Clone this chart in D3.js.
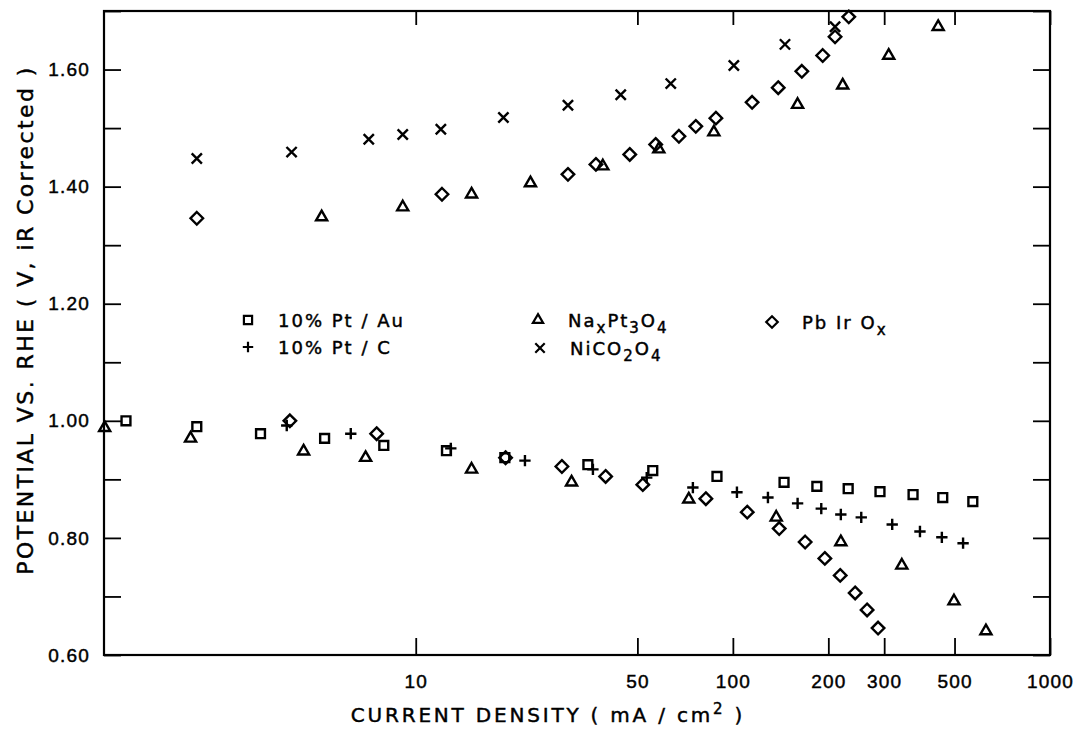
<!DOCTYPE html>
<html>
<head>
<meta charset="utf-8">
<script src="https://cdn.jsdelivr.net/npm/d3@7"></script>
<style>
  body { margin: 0; background: #fff; }
  svg { font-family: "DejaVu Sans", sans-serif; }
  text { stroke: #000; stroke-width: 0.45px; fill: #000; }
</style>
</head>
<body>
<svg id="chart" width="1079" height="730"></svg>
<script>
// Values: [current density mA/cm2, potential V vs RHE]
const ptAu = [[1.22, 1.000], [2.04, 0.990], [3.24, 0.978], [5.16, 0.970], [7.93, 0.958], [12.5, 0.949],
  [19.1, 0.937], [34.9, 0.925], [55.9, 0.915], [89.1, 0.905], [145, 0.895], [184, 0.888], [231, 0.884],
  [291, 0.879], [370, 0.874], [459, 0.869], [571, 0.862]]

const ptC = [[3.92, 0.992], [6.24, 0.978], [12.9, 0.953], [22.1, 0.932], [36.2, 0.917], [53.5, 0.903],
  [74.8, 0.886], [103, 0.878], [129, 0.869], [160, 0.859], [190, 0.850], [219, 0.840], [254, 0.835],
  [318, 0.823], [389, 0.811], [456, 0.801], [532, 0.791]]

const naPt = [[1.045, 0.988], [1.95, 0.970], [4.43, 0.948], [6.95, 0.937], [15.0, 0.917], [31.0, 0.895],
  [72.6, 0.866], [137, 0.835], [219, 0.793], [341, 0.753], [498, 0.692], [628, 0.641],
  [5.05, 1.348], [9.1, 1.365], [15.0, 1.387], [23.0, 1.406], [38.9, 1.435], [58.4, 1.464], [87.1, 1.493],
  [160, 1.540], [222, 1.573], [310, 1.624], [444, 1.673]]

const niCo = [[2.04, 1.448], [4.06, 1.459], [7.11, 1.481], [9.1, 1.489], [12.0, 1.498], [18.9, 1.518],
  [30.2, 1.539], [44.3, 1.557], [63.7, 1.576], [100.7, 1.607], [146, 1.643], [210, 1.673]]

const pbIr = [[4.01, 1.000], [7.53, 0.978], [19.2, 0.937], [28.9, 0.922], [39.7, 0.905], [52.0, 0.891],
  [82.2, 0.867], [111, 0.844], [140, 0.816], [169, 0.793], [195, 0.765], [218, 0.736], [243, 0.706],
  [265, 0.677], [287, 0.646],
  [2.04, 1.346], [12.1, 1.387], [30.2, 1.421], [37.0, 1.438], [47.3, 1.455], [57.1, 1.472], [67.6, 1.486],
  [76.4, 1.503], [88.4, 1.517], [115, 1.544], [139, 1.569], [165, 1.597], [192, 1.624], [210, 1.656],
  [232, 1.690]]

// "_" marks the next character as subscript
const seriesNames = ["10% Pt / Au", "10% Pt / C", "Na_xPt_3O_4", "NiCO_2O_4", "Pb Ir O_x"]
const xTicks = [10, 50, 100, 200, 300, 500, 1000]
const yTicks = [0.6, 0.7, 0.8, 0.9, 1.0, 1.1, 1.2, 1.3, 1.4, 1.5, 1.6, 1.7]

const series = [
  {data: ptAu, symbol: d3.symbolSquare2, size: 100},
  {data: ptC, symbol: d3.symbolPlus, size: 44},
  {data: naPt, symbol: d3.symbolTriangle2, size: 88},
  {data: niCo, symbol: d3.symbolTimes, size: 70},
  {data: pbIr, symbol: d3.symbolDiamond2, size: 100}
]

const plotLeft = 104, plotRight = 1050, plotTop = 11, plotBottom = 655
const x = d3.scaleLog().domain([1.04, 1000]).range([plotLeft, plotRight])
const y = d3.scaleLinear().domain([0.6, 1.7]).range([plotBottom, plotTop])

const svg = d3.select("#chart")

// ticks (inward) and labels
const yFmt = d => Math.round(d * 10) % 2 === 0 && d < 1.65 ? d.toFixed(2) : ""
svg.append("g").attr("transform", `translate(${plotLeft},0)`)
  .call(d3.axisLeft(y).tickValues(yTicks).tickSize(-17).tickPadding(14).tickFormat(yFmt))
svg.append("g").attr("transform", `translate(${plotRight},0)`)
  .call(d3.axisRight(y).tickValues(yTicks).tickSize(-17).tickFormat(""))
svg.append("g").attr("transform", `translate(0,${plotBottom})`)
  .call(d3.axisBottom(x).tickValues(xTicks).tickSize(-17).tickPadding(20).tickFormat(d3.format("d")))
svg.append("g").attr("transform", `translate(0,${plotTop})`)
  .call(d3.axisTop(x).tickValues(xTicks).tickSize(-14).tickFormat(""))

svg.selectAll(".domain").remove()
svg.selectAll(".tick line").attr("stroke", "#000").attr("stroke-width", 1.8)
svg.selectAll(".tick text").style("font-size", "19px").style("letter-spacing", "1.2px")

// frame
svg.append("rect")
  .attr("x", plotLeft).attr("y", plotTop)
  .attr("width", plotRight - plotLeft).attr("height", plotBottom - plotTop)
  .attr("fill", "none").attr("stroke", "#000").attr("stroke-width", 2.2)

// markers
for (const s of series) {
  svg.append("g")
    .selectAll("path")
    .data(s.data)
    .join("path")
    .attr("transform", d => `translate(${x(d[0])},${y(d[1])})`)
    .attr("d", d3.symbol(s.symbol, s.size))
    .attr("fill", "none")
    .attr("stroke", "#000")
    .attr("stroke-width", 2.4)
}

// legend
const legendPos = [[248, 320], [248, 347], [538, 320], [540, 348], [772, 322]]

const addRich = (sel, str) => {
  let sub = false
  let wasSub = false
  for (const ch of str) {
    if (ch === "_") { sub = true; continue }
    const t = sel.append("tspan").text(ch)
    if (sub) {
      t.attr("dy", 6).style("font-size", "15px")
    } else if (wasSub) {
      t.attr("dy", -6)
    }
    wasSub = sub
    sub = false
  }
}

seriesNames.forEach((name, i) => {
  const [lx, ly] = legendPos[i]
  svg.append("path")
    .attr("transform", `translate(${lx},${ly})`)
    .attr("d", d3.symbol(series[i].symbol, series[i].size * 0.85))
    .attr("fill", "none").attr("stroke", "#000").attr("stroke-width", 2.2)
  const t = svg.append("text")
    .attr("x", lx + 30).attr("y", ly + 7)
    .style("font-size", "18px").style("letter-spacing", "2px")
  addRich(t, name)
})

// axis titles
const xTitle = svg.append("text")
  .attr("x", 548).attr("y", 722)
  .attr("text-anchor", "middle")
  .style("font-size", "20px").style("letter-spacing", "2.8px")
xTitle.append("tspan").text("CURRENT DENSITY ( mA / cm")
xTitle.append("tspan").text("2").attr("dy", -8).style("font-size", "15px")
xTitle.append("tspan").text(" )").attr("dy", 8)

svg.append("text")
  .attr("transform", "translate(33,320) rotate(-90)")
  .attr("text-anchor", "middle")
  .style("font-size", "22px").style("letter-spacing", "2.4px")
  .text("POTENTIAL VS. RHE ( V, iR Corrected )")
</script>
</body>
</html>
